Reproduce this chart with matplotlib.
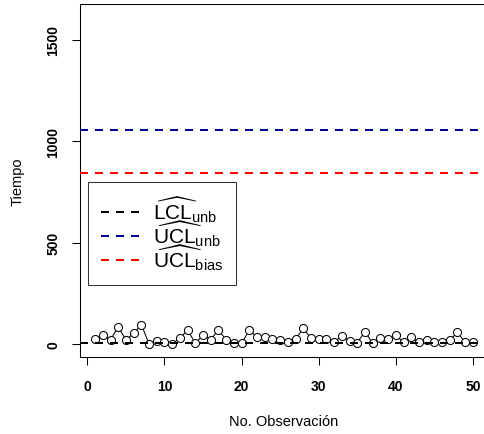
import numpy as np
import matplotlib
matplotlib.use('Agg')
import matplotlib.pyplot as plt

# Fuente tipo Helvetica como en R
plt.rcParams['font.family'] = ['Liberation Sans', 'DejaVu Sans']
plt.rcParams['mathtext.fontset'] = 'custom'
plt.rcParams['mathtext.rm'] = 'Liberation Sans'
plt.rcParams['mathtext.it'] = 'Liberation Sans:italic'
plt.rcParams['mathtext.bf'] = 'Liberation Sans:bold'

# Datos
obs = np.arange(1, 51)
tiempo = [25, 44, 21, 85, 20, 53, 95, 0, 13, 8,
          2, 28, 69, 3, 44, 22, 69, 20, 3, 3,
          69, 33, 33, 23, 20, 8, 25, 77, 28, 25,
          25, 11, 38, 13, 6, 61, 3, 30, 23, 44,
          8, 33, 8, 20, 11, 11, 20, 57, 8, 8]

lcl_unb = 4
ucl_unb = 1054
ucl_bias = 844

limites = [lcl_unb, ucl_unb, ucl_bias]
colores = ['black', '#00008B', 'red']
etiquetas = [r'$\widehat{\mathrm{LCL}}_{\mathrm{unb}}$',
             r'$\widehat{\mathrm{UCL}}_{\mathrm{unb}}$',
             r'$\widehat{\mathrm{UCL}}_{\mathrm{bias}}$']

fig = plt.figure(figsize=(4.84, 4.35), dpi=100)
ax = fig.add_axes([80 / 484, 77 / 435, 408 / 484, 353 / 435])

ax.plot(obs, tiempo, color='black', lw=0.75, marker='o', ms=5.8,
        mfc='white', mec='black', mew=0.75, zorder=2)

lineas = []
for val, col in zip(limites, colores):
    ln = ax.axhline(val, color=col, lw=1.44, dashes=(4, 3.5), zorder=3)
    lineas.append(ln)

ax.set_xlim(-0.96, 51.96)
ax.set_ylim(-64, 1675)
ax.set_xticks([0, 10, 20, 30, 40, 50])
ax.set_yticks([0, 500, 1000, 1500])

for s in ax.spines.values():
    s.set_linewidth(0.75)
ax.tick_params(length=6, width=0.75, pad=10, labelsize=10)
ax.tick_params(axis='y', pad=8)
for lab in ax.get_xticklabels() + ax.get_yticklabels():
    lab.set_fontweight('bold')
for lab in ax.get_yticklabels():
    lab.set_rotation(90)
    lab.set_va('center')

ax.set_xlabel('No. Observación', fontsize=10.5)
ax.xaxis.set_label_coords(0.5, -0.18)
ax.xaxis.label.set_va('center')
ax.set_ylabel('Tiempo', fontsize=10.5)
ax.yaxis.set_label_coords(-0.154, 0.5)
ax.yaxis.label.set_va('center')

leg = ax.legend(lineas, etiquetas, loc='upper left',
                bbox_to_anchor=(8.3 / 408, (358 - 183.3) / 353),
                borderaxespad=0, fancybox=False, framealpha=1,
                edgecolor='#333333', fontsize=15, handlelength=1.87,
                labelspacing=-0.28, borderpad=0.6, handletextpad=0.65)
leg.get_frame().set_linewidth(0.75)

fig.savefig('out.png', dpi=100)
